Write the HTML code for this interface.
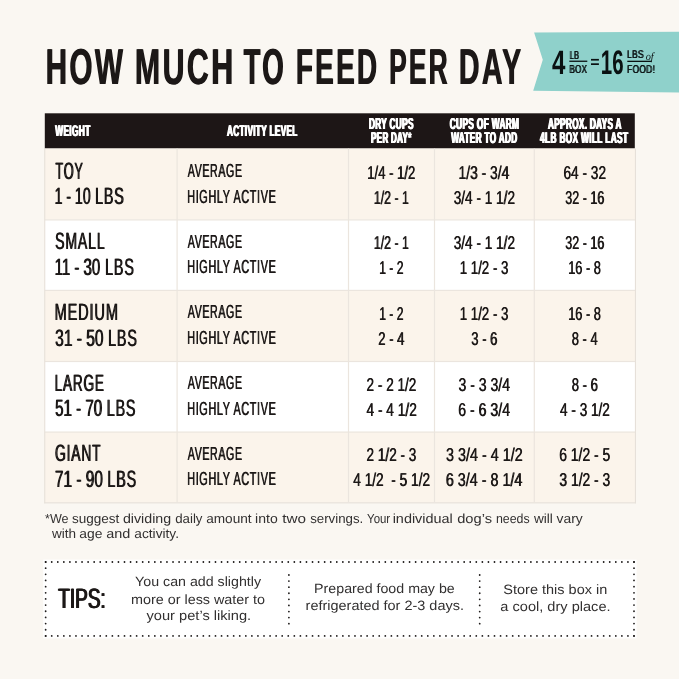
<!DOCTYPE html>
<html><head><meta charset="utf-8"><title>How much to feed per day</title>
<style>
html,body{margin:0;padding:0}
body{width:679px;height:679px;overflow:hidden;background:#faf7f2;font-family:"Liberation Sans",sans-serif;position:relative}
#wrap{position:absolute;left:0;top:0;width:679px;height:679px;will-change:transform;background:#faf7f2}
svg{position:absolute;left:0;top:0}
svg text{font-family:"Liberation Sans",sans-serif;font-weight:bold;text-rendering:geometricPrecision;white-space:pre}

</style></head><body><div id="wrap">
<svg width="679" height="679" viewBox="0 0 679 679">
<polygon points="534.1,32.4 679,31.7 679,92.6 533.2,90.7 542.8,59.8" fill="#8fd1cb"/>
<rect x="44.8" y="113.3" width="590.0" height="35.3" fill="#1d1616"/>
<rect x="44.8" y="148.4" width="590.4" height="71.3" fill="#fbf4eb"/>
<rect x="44.8" y="219.7" width="590.4" height="70.5" fill="#ffffff"/>
<rect x="44.8" y="290.2" width="590.4" height="71.1" fill="#fbf4eb"/>
<rect x="44.8" y="361.3" width="590.4" height="70.6" fill="#ffffff"/>
<rect x="44.8" y="431.9" width="590.4" height="70.8" fill="#fbf4eb"/>
<rect x="44.8" y="219.30" width="590.4" height="1.2" fill="#ebe5de"/>
<rect x="44.8" y="289.8" width="590.4" height="1.2" fill="#ebe5de"/>
<rect x="44.8" y="360.90" width="590.4" height="1.2" fill="#ebe5de"/>
<rect x="44.8" y="431.5" width="590.4" height="1.2" fill="#ebe5de"/>
<rect x="44.20" y="148.6" width="1.1" height="354.7" fill="#e6e0d9"/>
<rect x="634.90" y="148.6" width="1.1" height="354.7" fill="#e6e0d9"/>
<rect x="44.20" y="502.3" width="591.8" height="1.1" fill="#e6e0d9"/>
<rect x="176.5" y="148.6" width="1.2" height="354.1" fill="#ebe5de"/>
<rect x="347.90" y="148.6" width="1.2" height="354.1" fill="#ebe5de"/>
<rect x="433.90" y="148.6" width="1.2" height="354.1" fill="#ebe5de"/>
<rect x="533.70" y="148.6" width="1.2" height="354.1" fill="#ebe5de"/>
<rect x="43.2" y="559.6" width="593.4" height="78.8" fill="#ffffff"/>
<g stroke="#1f1c1b" stroke-width="1.8" stroke-linecap="round" fill="none">
<path d="M45.65 562.0H634.01M45.65 635.9H634.01" stroke-dasharray="0 6.0655"/>
<path d="M45.65 562.0V635.91M634.0 562.0V635.91" stroke-dasharray="0 6.1583"/>
<path d="M288.9 575V623.8M479.7 575V623.8" stroke-dasharray="0 6.0875"/>
</g>
<rect x="569.3" y="60.6" width="18" height="1.3" fill="#0a1112"/>
<rect x="627.3" y="60.7" width="24.2" height="1.3" fill="#0a1112"/>
<rect x="591" y="58.9" width="7.9" height="1.7" fill="#0a1112"/><rect x="591" y="63.3" width="7.9" height="1.7" fill="#0a1112"/>
<text transform="translate(45.17 84) scale(0.5901 1)" font-size="50.44" fill="#1c1817" style="letter-spacing:4.03px;">HOW</text>
<text transform="translate(45.97 84) scale(0.5901 1)" font-size="50.44" fill="#1c1817" style="letter-spacing:4.03px;">HOW</text>
<text transform="translate(134.53 84) scale(0.6011 1)" font-size="50.44" fill="#1c1817" style="letter-spacing:4.03px;">MUCH</text>
<text transform="translate(135.33 84) scale(0.6011 1)" font-size="50.44" fill="#1c1817" style="letter-spacing:4.03px;">MUCH</text>
<text transform="translate(243.32 84) scale(0.5456 1)" font-size="50.44" fill="#1c1817" style="letter-spacing:4.03px;">TO</text>
<text transform="translate(244.12 84) scale(0.5456 1)" font-size="50.44" fill="#1c1817" style="letter-spacing:4.03px;">TO</text>
<text transform="translate(295.48 84) scale(0.5542 1)" font-size="50.44" fill="#1c1817" style="letter-spacing:4.03px;">FEED</text>
<text transform="translate(296.28 84) scale(0.5542 1)" font-size="50.44" fill="#1c1817" style="letter-spacing:4.03px;">FEED</text>
<text transform="translate(388.79 84) scale(0.5222 1)" font-size="50.44" fill="#1c1817" style="letter-spacing:4.03px;">PER</text>
<text transform="translate(389.59 84) scale(0.5222 1)" font-size="50.44" fill="#1c1817" style="letter-spacing:4.03px;">PER</text>
<text transform="translate(458.54 84) scale(0.5667 1)" font-size="50.44" fill="#1c1817" style="letter-spacing:4.03px;">DAY</text>
<text transform="translate(459.34 84) scale(0.5667 1)" font-size="50.44" fill="#1c1817" style="letter-spacing:4.03px;">DAY</text>
<text transform="translate(54.70 136) scale(0.5359 1)" font-size="15.55" fill="#ffffff" style="letter-spacing:0.62px;">WEIGHT</text>
<text transform="translate(55.23 136) scale(0.5359 1)" font-size="15.55" fill="#ffffff" style="letter-spacing:0.62px;">WEIGHT</text>
<text transform="translate(55.75 136) scale(0.5359 1)" font-size="15.55" fill="#ffffff" style="letter-spacing:0.62px;">WEIGHT</text>
<text transform="translate(226.44 136) scale(0.5288 1)" font-size="15.55" fill="#ffffff" style="letter-spacing:0.62px;">ACTIVITY LEVEL</text>
<text transform="translate(226.96 136) scale(0.5288 1)" font-size="15.55" fill="#ffffff" style="letter-spacing:0.62px;">ACTIVITY LEVEL</text>
<text transform="translate(227.49 136) scale(0.5288 1)" font-size="15.55" fill="#ffffff" style="letter-spacing:0.62px;">ACTIVITY LEVEL</text>
<text transform="translate(368.46 129) scale(0.5214 1)" font-size="15.84" fill="#ffffff" style="letter-spacing:0.63px;">DRY CUPS</text>
<text transform="translate(368.99 129) scale(0.5214 1)" font-size="15.84" fill="#ffffff" style="letter-spacing:0.63px;">DRY CUPS</text>
<text transform="translate(369.51 129) scale(0.5214 1)" font-size="15.84" fill="#ffffff" style="letter-spacing:0.63px;">DRY CUPS</text>
<text transform="translate(370.58 143) scale(0.5094 1)" font-size="15.70" fill="#ffffff" style="letter-spacing:0.63px;">PER DAY*</text>
<text transform="translate(371.11 143) scale(0.5094 1)" font-size="15.70" fill="#ffffff" style="letter-spacing:0.63px;">PER DAY*</text>
<text transform="translate(371.63 143) scale(0.5094 1)" font-size="15.70" fill="#ffffff" style="letter-spacing:0.63px;">PER DAY*</text>
<text transform="translate(449.27 129) scale(0.5252 1)" font-size="15.84" fill="#ffffff" style="letter-spacing:0.63px;">CUPS OF WARM</text>
<text transform="translate(449.79 129) scale(0.5252 1)" font-size="15.84" fill="#ffffff" style="letter-spacing:0.63px;">CUPS OF WARM</text>
<text transform="translate(450.32 129) scale(0.5252 1)" font-size="15.84" fill="#ffffff" style="letter-spacing:0.63px;">CUPS OF WARM</text>
<text transform="translate(450.70 143) scale(0.5231 1)" font-size="15.70" fill="#ffffff" style="letter-spacing:0.63px;">WATER TO ADD</text>
<text transform="translate(451.22 143) scale(0.5231 1)" font-size="15.70" fill="#ffffff" style="letter-spacing:0.63px;">WATER TO ADD</text>
<text transform="translate(451.75 143) scale(0.5231 1)" font-size="15.70" fill="#ffffff" style="letter-spacing:0.63px;">WATER TO ADD</text>
<text transform="translate(547.54 129) scale(0.5184 1)" font-size="15.84" fill="#ffffff" style="letter-spacing:0.63px;">APPROX. DAYS A</text>
<text transform="translate(548.06 129) scale(0.5184 1)" font-size="15.84" fill="#ffffff" style="letter-spacing:0.63px;">APPROX. DAYS A</text>
<text transform="translate(548.59 129) scale(0.5184 1)" font-size="15.84" fill="#ffffff" style="letter-spacing:0.63px;">APPROX. DAYS A</text>
<text transform="translate(539.58 143) scale(0.5298 1)" font-size="15.70" fill="#ffffff" style="letter-spacing:0.63px;">4LB BOX WILL LAST</text>
<text transform="translate(540.10 143) scale(0.5298 1)" font-size="15.70" fill="#ffffff" style="letter-spacing:0.63px;">4LB BOX WILL LAST</text>
<text transform="translate(540.63 143) scale(0.5298 1)" font-size="15.70" fill="#ffffff" style="letter-spacing:0.63px;">4LB BOX WILL LAST</text>
<text transform="translate(55.04 179) scale(0.5387 1)" font-size="23.69" fill="#1c1817" style="font-weight:normal;letter-spacing:1.42px;">TOY</text>
<text transform="translate(55.84 179) scale(0.5387 1)" font-size="23.69" fill="#1c1817" style="font-weight:normal;letter-spacing:1.42px;">TOY</text>
<text transform="translate(54.25 204) scale(0.5936 1)" font-size="23.69" fill="#1c1817" style="font-weight:normal;">1 - 10</text>
<text transform="translate(55.05 204) scale(0.5936 1)" font-size="23.69" fill="#1c1817" style="font-weight:normal;">1 - 10</text>
<text transform="translate(94.66 204) scale(0.6036 1)" font-size="23.69" fill="#1c1817" style="font-weight:normal;letter-spacing:1.42px;">LBS</text>
<text transform="translate(95.46 204) scale(0.6036 1)" font-size="23.69" fill="#1c1817" style="font-weight:normal;letter-spacing:1.42px;">LBS</text>
<text transform="translate(187.50 177) scale(0.5611 1)" font-size="18.90" fill="#1c1817" style="font-weight:normal;letter-spacing:1.13px;">AVERAGE</text>
<text transform="translate(188.05 177) scale(0.5611 1)" font-size="18.90" fill="#1c1817" style="font-weight:normal;letter-spacing:1.13px;">AVERAGE</text>
<text transform="translate(186.93 203) scale(0.5734 1)" font-size="18.90" fill="#1c1817" style="font-weight:normal;letter-spacing:1.13px;">HIGHLY ACTIVE</text>
<text transform="translate(187.48 203) scale(0.5734 1)" font-size="18.90" fill="#1c1817" style="font-weight:normal;letter-spacing:1.13px;">HIGHLY ACTIVE</text>
<text transform="translate(367.02 179) scale(0.7037 1)" font-size="18.60" fill="#1c1817" style="font-weight:normal;">1/4 - 1/2</text>
<text transform="translate(367.57 179) scale(0.7037 1)" font-size="18.60" fill="#1c1817" style="font-weight:normal;">1/4 - 1/2</text>
<text transform="translate(373.58 204) scale(0.6625 1)" font-size="18.60" fill="#1c1817" style="font-weight:normal;">1/2 - 1</text>
<text transform="translate(374.13 204) scale(0.6625 1)" font-size="18.60" fill="#1c1817" style="font-weight:normal;">1/2 - 1</text>
<text transform="translate(458.31 179) scale(0.7435 1)" font-size="18.60" fill="#1c1817" style="font-weight:normal;">1/3 - 3/4</text>
<text transform="translate(458.86 179) scale(0.7435 1)" font-size="18.60" fill="#1c1817" style="font-weight:normal;">1/3 - 3/4</text>
<text transform="translate(453.47 204) scale(0.7312 1)" font-size="18.60" fill="#1c1817" style="font-weight:normal;">3/4 - 1 1/2</text>
<text transform="translate(454.02 204) scale(0.7312 1)" font-size="18.60" fill="#1c1817" style="font-weight:normal;">3/4 - 1 1/2</text>
<text transform="translate(563.22 179) scale(0.7349 1)" font-size="18.60" fill="#1c1817" style="font-weight:normal;">64 - 32</text>
<text transform="translate(563.77 179) scale(0.7349 1)" font-size="18.60" fill="#1c1817" style="font-weight:normal;">64 - 32</text>
<text transform="translate(565.06 204) scale(0.6734 1)" font-size="18.60" fill="#1c1817" style="font-weight:normal;">32 - 16</text>
<text transform="translate(565.61 204) scale(0.6734 1)" font-size="18.60" fill="#1c1817" style="font-weight:normal;">32 - 16</text>
<text transform="translate(54.67 249) scale(0.5945 1)" font-size="23.69" fill="#1c1817" style="font-weight:normal;letter-spacing:1.42px;">SMALL</text>
<text transform="translate(55.47 249) scale(0.5945 1)" font-size="23.69" fill="#1c1817" style="font-weight:normal;letter-spacing:1.42px;">SMALL</text>
<text transform="translate(54.17 275) scale(0.6343 1)" font-size="23.69" fill="#1c1817" style="font-weight:normal;">11 - 30</text>
<text transform="translate(54.97 275) scale(0.6343 1)" font-size="23.69" fill="#1c1817" style="font-weight:normal;">11 - 30</text>
<text transform="translate(104.76 275) scale(0.6036 1)" font-size="23.69" fill="#1c1817" style="font-weight:normal;letter-spacing:1.42px;">LBS</text>
<text transform="translate(105.56 275) scale(0.6036 1)" font-size="23.69" fill="#1c1817" style="font-weight:normal;letter-spacing:1.42px;">LBS</text>
<text transform="translate(187.50 248) scale(0.5611 1)" font-size="18.90" fill="#1c1817" style="font-weight:normal;letter-spacing:1.13px;">AVERAGE</text>
<text transform="translate(188.05 248) scale(0.5611 1)" font-size="18.90" fill="#1c1817" style="font-weight:normal;letter-spacing:1.13px;">AVERAGE</text>
<text transform="translate(186.93 273) scale(0.5734 1)" font-size="18.90" fill="#1c1817" style="font-weight:normal;letter-spacing:1.13px;">HIGHLY ACTIVE</text>
<text transform="translate(187.48 273) scale(0.5734 1)" font-size="18.90" fill="#1c1817" style="font-weight:normal;letter-spacing:1.13px;">HIGHLY ACTIVE</text>
<text transform="translate(373.58 249) scale(0.6625 1)" font-size="18.60" fill="#1c1817" style="font-weight:normal;">1/2 - 1</text>
<text transform="translate(374.13 249) scale(0.6625 1)" font-size="18.60" fill="#1c1817" style="font-weight:normal;">1/2 - 1</text>
<text transform="translate(378.89 274) scale(0.6534 1)" font-size="18.60" fill="#1c1817" style="font-weight:normal;">1 - 2</text>
<text transform="translate(379.44 274) scale(0.6534 1)" font-size="18.60" fill="#1c1817" style="font-weight:normal;">1 - 2</text>
<text transform="translate(453.47 249) scale(0.7312 1)" font-size="18.60" fill="#1c1817" style="font-weight:normal;">3/4 - 1 1/2</text>
<text transform="translate(454.02 249) scale(0.7312 1)" font-size="18.60" fill="#1c1817" style="font-weight:normal;">3/4 - 1 1/2</text>
<text transform="translate(459.40 274) scale(0.7148 1)" font-size="18.60" fill="#1c1817" style="font-weight:normal;">1 1/2 - 3</text>
<text transform="translate(459.95 274) scale(0.7148 1)" font-size="18.60" fill="#1c1817" style="font-weight:normal;">1 1/2 - 3</text>
<text transform="translate(565.06 249) scale(0.6734 1)" font-size="18.60" fill="#1c1817" style="font-weight:normal;">32 - 16</text>
<text transform="translate(565.61 249) scale(0.6734 1)" font-size="18.60" fill="#1c1817" style="font-weight:normal;">32 - 16</text>
<text transform="translate(567.89 274) scale(0.6903 1)" font-size="18.60" fill="#1c1817" style="font-weight:normal;">16 - 8</text>
<text transform="translate(568.44 274) scale(0.6903 1)" font-size="18.60" fill="#1c1817" style="font-weight:normal;">16 - 8</text>
<text transform="translate(54.14 320) scale(0.6144 1)" font-size="23.69" fill="#1c1817" style="font-weight:normal;letter-spacing:1.42px;">MEDIUM</text>
<text transform="translate(54.94 320) scale(0.6144 1)" font-size="23.69" fill="#1c1817" style="font-weight:normal;letter-spacing:1.42px;">MEDIUM</text>
<text transform="translate(54.76 346) scale(0.6563 1)" font-size="23.69" fill="#1c1817" style="font-weight:normal;">31 - 50</text>
<text transform="translate(55.56 346) scale(0.6563 1)" font-size="23.69" fill="#1c1817" style="font-weight:normal;">31 - 50</text>
<text transform="translate(107.76 346) scale(0.6036 1)" font-size="23.69" fill="#1c1817" style="font-weight:normal;letter-spacing:1.42px;">LBS</text>
<text transform="translate(108.56 346) scale(0.6036 1)" font-size="23.69" fill="#1c1817" style="font-weight:normal;letter-spacing:1.42px;">LBS</text>
<text transform="translate(187.50 318) scale(0.5611 1)" font-size="18.90" fill="#1c1817" style="font-weight:normal;letter-spacing:1.13px;">AVERAGE</text>
<text transform="translate(188.05 318) scale(0.5611 1)" font-size="18.90" fill="#1c1817" style="font-weight:normal;letter-spacing:1.13px;">AVERAGE</text>
<text transform="translate(186.93 344) scale(0.5734 1)" font-size="18.90" fill="#1c1817" style="font-weight:normal;letter-spacing:1.13px;">HIGHLY ACTIVE</text>
<text transform="translate(187.48 344) scale(0.5734 1)" font-size="18.90" fill="#1c1817" style="font-weight:normal;letter-spacing:1.13px;">HIGHLY ACTIVE</text>
<text transform="translate(378.89 320) scale(0.6534 1)" font-size="18.60" fill="#1c1817" style="font-weight:normal;">1 - 2</text>
<text transform="translate(379.44 320) scale(0.6534 1)" font-size="18.60" fill="#1c1817" style="font-weight:normal;">1 - 2</text>
<text transform="translate(378.00 345) scale(0.7023 1)" font-size="18.60" fill="#1c1817" style="font-weight:normal;">2 - 4</text>
<text transform="translate(378.55 345) scale(0.7023 1)" font-size="18.60" fill="#1c1817" style="font-weight:normal;">2 - 4</text>
<text transform="translate(459.40 320) scale(0.7148 1)" font-size="18.60" fill="#1c1817" style="font-weight:normal;">1 1/2 - 3</text>
<text transform="translate(459.95 320) scale(0.7148 1)" font-size="18.60" fill="#1c1817" style="font-weight:normal;">1 1/2 - 3</text>
<text transform="translate(470.99 345) scale(0.7023 1)" font-size="18.60" fill="#1c1817" style="font-weight:normal;">3 - 6</text>
<text transform="translate(471.54 345) scale(0.7023 1)" font-size="18.60" fill="#1c1817" style="font-weight:normal;">3 - 6</text>
<text transform="translate(567.89 320) scale(0.6903 1)" font-size="18.60" fill="#1c1817" style="font-weight:normal;">16 - 8</text>
<text transform="translate(568.44 320) scale(0.6903 1)" font-size="18.60" fill="#1c1817" style="font-weight:normal;">16 - 8</text>
<text transform="translate(571.43 345) scale(0.6987 1)" font-size="18.60" fill="#1c1817" style="font-weight:normal;">8 - 4</text>
<text transform="translate(571.98 345) scale(0.6987 1)" font-size="18.60" fill="#1c1817" style="font-weight:normal;">8 - 4</text>
<text transform="translate(54.21 391) scale(0.5739 1)" font-size="23.69" fill="#1c1817" style="font-weight:normal;letter-spacing:1.42px;">LARGE</text>
<text transform="translate(55.01 391) scale(0.5739 1)" font-size="23.69" fill="#1c1817" style="font-weight:normal;letter-spacing:1.42px;">LARGE</text>
<text transform="translate(54.70 416) scale(0.6379 1)" font-size="23.69" fill="#1c1817" style="font-weight:normal;">51 - 70</text>
<text transform="translate(55.50 416) scale(0.6379 1)" font-size="23.69" fill="#1c1817" style="font-weight:normal;">51 - 70</text>
<text transform="translate(106.36 416) scale(0.6036 1)" font-size="23.69" fill="#1c1817" style="font-weight:normal;letter-spacing:1.42px;">LBS</text>
<text transform="translate(107.16 416) scale(0.6036 1)" font-size="23.69" fill="#1c1817" style="font-weight:normal;letter-spacing:1.42px;">LBS</text>
<text transform="translate(187.50 389) scale(0.5611 1)" font-size="18.90" fill="#1c1817" style="font-weight:normal;letter-spacing:1.13px;">AVERAGE</text>
<text transform="translate(188.05 389) scale(0.5611 1)" font-size="18.90" fill="#1c1817" style="font-weight:normal;letter-spacing:1.13px;">AVERAGE</text>
<text transform="translate(186.93 415) scale(0.5734 1)" font-size="18.90" fill="#1c1817" style="font-weight:normal;letter-spacing:1.13px;">HIGHLY ACTIVE</text>
<text transform="translate(187.48 415) scale(0.5734 1)" font-size="18.90" fill="#1c1817" style="font-weight:normal;letter-spacing:1.13px;">HIGHLY ACTIVE</text>
<text transform="translate(366.27 391) scale(0.7304 1)" font-size="18.60" fill="#1c1817" style="font-weight:normal;">2 - 2 1/2</text>
<text transform="translate(366.82 391) scale(0.7304 1)" font-size="18.60" fill="#1c1817" style="font-weight:normal;">2 - 2 1/2</text>
<text transform="translate(366.23 416) scale(0.7377 1)" font-size="18.60" fill="#1c1817" style="font-weight:normal;">4 - 4 1/2</text>
<text transform="translate(366.78 416) scale(0.7377 1)" font-size="18.60" fill="#1c1817" style="font-weight:normal;">4 - 4 1/2</text>
<text transform="translate(458.16 391) scale(0.7561 1)" font-size="18.60" fill="#1c1817" style="font-weight:normal;">3 - 3 3/4</text>
<text transform="translate(458.71 391) scale(0.7561 1)" font-size="18.60" fill="#1c1817" style="font-weight:normal;">3 - 3 3/4</text>
<text transform="translate(457.94 416) scale(0.7592 1)" font-size="18.60" fill="#1c1817" style="font-weight:normal;">6 - 6 3/4</text>
<text transform="translate(458.49 416) scale(0.7592 1)" font-size="18.60" fill="#1c1817" style="font-weight:normal;">6 - 6 3/4</text>
<text transform="translate(571.43 391) scale(0.7041 1)" font-size="18.60" fill="#1c1817" style="font-weight:normal;">8 - 6</text>
<text transform="translate(571.98 391) scale(0.7041 1)" font-size="18.60" fill="#1c1817" style="font-weight:normal;">8 - 6</text>
<text transform="translate(559.78 416) scale(0.7303 1)" font-size="18.60" fill="#1c1817" style="font-weight:normal;">4 - 3 1/2</text>
<text transform="translate(560.33 416) scale(0.7303 1)" font-size="18.60" fill="#1c1817" style="font-weight:normal;">4 - 3 1/2</text>
<text transform="translate(54.61 461) scale(0.5838 1)" font-size="23.69" fill="#1c1817" style="font-weight:normal;letter-spacing:1.42px;">GIANT</text>
<text transform="translate(55.41 461) scale(0.5838 1)" font-size="23.69" fill="#1c1817" style="font-weight:normal;letter-spacing:1.42px;">GIANT</text>
<text transform="translate(54.53 487) scale(0.6498 1)" font-size="23.69" fill="#1c1817" style="font-weight:normal;">71 - 90</text>
<text transform="translate(55.33 487) scale(0.6498 1)" font-size="23.69" fill="#1c1817" style="font-weight:normal;">71 - 90</text>
<text transform="translate(107.06 487) scale(0.6036 1)" font-size="23.69" fill="#1c1817" style="font-weight:normal;letter-spacing:1.42px;">LBS</text>
<text transform="translate(107.86 487) scale(0.6036 1)" font-size="23.69" fill="#1c1817" style="font-weight:normal;letter-spacing:1.42px;">LBS</text>
<text transform="translate(187.50 460) scale(0.5611 1)" font-size="18.90" fill="#1c1817" style="font-weight:normal;letter-spacing:1.13px;">AVERAGE</text>
<text transform="translate(188.05 460) scale(0.5611 1)" font-size="18.90" fill="#1c1817" style="font-weight:normal;letter-spacing:1.13px;">AVERAGE</text>
<text transform="translate(186.93 485) scale(0.5734 1)" font-size="18.90" fill="#1c1817" style="font-weight:normal;letter-spacing:1.13px;">HIGHLY ACTIVE</text>
<text transform="translate(187.48 485) scale(0.5734 1)" font-size="18.90" fill="#1c1817" style="font-weight:normal;letter-spacing:1.13px;">HIGHLY ACTIVE</text>
<text transform="translate(366.27 461) scale(0.7294 1)" font-size="18.60" fill="#1c1817" style="font-weight:normal;">2 1/2 - 3</text>
<text transform="translate(366.82 461) scale(0.7294 1)" font-size="18.60" fill="#1c1817" style="font-weight:normal;">2 1/2 - 3</text>
<text transform="translate(352.98 486) scale(0.7357 1)" font-size="18.60" fill="#1c1817" style="font-weight:normal;">4 1/2&#160; - 5 1/2</text>
<text transform="translate(353.53 486) scale(0.7357 1)" font-size="18.60" fill="#1c1817" style="font-weight:normal;">4 1/2&#160; - 5 1/2</text>
<text transform="translate(445.80 461) scale(0.7716 1)" font-size="18.60" fill="#1c1817" style="font-weight:normal;">3 3/4 - 4 1/2</text>
<text transform="translate(446.35 461) scale(0.7716 1)" font-size="18.60" fill="#1c1817" style="font-weight:normal;">3 3/4 - 4 1/2</text>
<text transform="translate(445.58 486) scale(0.7709 1)" font-size="18.60" fill="#1c1817" style="font-weight:normal;">6 3/4 - 8 1/4</text>
<text transform="translate(446.13 486) scale(0.7709 1)" font-size="18.60" fill="#1c1817" style="font-weight:normal;">6 3/4 - 8 1/4</text>
<text transform="translate(558.90 461) scale(0.7489 1)" font-size="18.60" fill="#1c1817" style="font-weight:normal;">6 1/2 - 5</text>
<text transform="translate(559.45 461) scale(0.7489 1)" font-size="18.60" fill="#1c1817" style="font-weight:normal;">6 1/2 - 5</text>
<text transform="translate(559.11 486) scale(0.7458 1)" font-size="18.60" fill="#1c1817" style="font-weight:normal;">3 1/2 - 3</text>
<text transform="translate(559.66 486) scale(0.7458 1)" font-size="18.60" fill="#1c1817" style="font-weight:normal;">3 1/2 - 3</text>
<text transform="translate(57.62 608) scale(0.6764 1)" font-size="28.05" fill="#1c1817" style="font-weight:normal;">TIPS:</text>
<text transform="translate(58.27 608) scale(0.6764 1)" font-size="28.05" fill="#1c1817" style="font-weight:normal;">TIPS:</text>
<text transform="translate(58.92 608) scale(0.6764 1)" font-size="28.05" fill="#1c1817" style="font-weight:normal;">TIPS:</text>
<text transform="translate(552.04 74) scale(0.7139 1)" font-size="33.72" fill="#0a1112">4</text>
<text transform="translate(600.77 74) scale(0.5993 1)" font-size="34.16" fill="#0a1112">16</text>
<text transform="translate(569.32 59) scale(0.6352 1)" font-size="11.48" fill="#0a1112" style="font-weight:normal;letter-spacing:0.46px;">LB</text>
<text transform="translate(570.17 59) scale(0.6352 1)" font-size="11.48" fill="#0a1112" style="font-weight:normal;letter-spacing:0.46px;">LB</text>
<text transform="translate(569.06 73) scale(0.6835 1)" font-size="11.63" fill="#0a1112" style="font-weight:normal;letter-spacing:0.47px;">BOX</text>
<text transform="translate(569.91 73) scale(0.6835 1)" font-size="11.63" fill="#0a1112" style="font-weight:normal;letter-spacing:0.47px;">BOX</text>
<text transform="translate(626.74 58) scale(0.7421 1)" font-size="11.19" fill="#0a1112" style="font-weight:normal;letter-spacing:0.45px;">LBS</text>
<text transform="translate(627.59 58) scale(0.7421 1)" font-size="11.19" fill="#0a1112" style="font-weight:normal;letter-spacing:0.45px;">LBS</text>
<text transform="translate(626.73 73) scale(0.7358 1)" font-size="11.34" fill="#0a1112" style="font-weight:normal;letter-spacing:0.45px;">FOOD!</text>
<text transform="translate(627.58 73) scale(0.7358 1)" font-size="11.34" fill="#0a1112" style="font-weight:normal;letter-spacing:0.45px;">FOOD!</text>
<text transform="translate(645.64 60) scale(0.9365 1)" font-size="11.05" fill="#0a1112" style="font-weight:normal;font-style:italic;font-family:'Liberation Serif',serif;">of</text>
<text transform="translate(45.11 523) scale(0.9591 1)" font-size="13.1" fill="#323030" style="font-weight:normal">*We</text>
<text transform="translate(71.96 523) scale(1.0339 1)" font-size="13.1" fill="#323030" style="font-weight:normal">suggest</text>
<text transform="translate(122.93 523) scale(1.0861 1)" font-size="13.1" fill="#323030" style="font-weight:normal">dividing</text>
<text transform="translate(175.17 523) scale(1.0137 1)" font-size="13.1" fill="#323030" style="font-weight:normal">daily</text>
<text transform="translate(206.15 523) scale(1.0415 1)" font-size="13.1" fill="#323030" style="font-weight:normal">amount</text>
<text transform="translate(255.09 523) scale(1.0702 1)" font-size="13.1" fill="#323030" style="font-weight:normal">into</text>
<text transform="translate(282.27 523) scale(1.1654 1)" font-size="13.1" fill="#323030" style="font-weight:normal">two</text>
<text transform="translate(310.17 523) scale(1.0132 1)" font-size="13.1" fill="#323030" style="font-weight:normal">servings.</text>
<text transform="translate(367.07 523) scale(0.8735 1)" font-size="13.1" fill="#323030" style="font-weight:normal">Your</text>
<text transform="translate(392.66 523) scale(1.1020 1)" font-size="13.1" fill="#323030" style="font-weight:normal">individual</text>
<text transform="translate(457.21 523) scale(1.1204 1)" font-size="13.1" fill="#323030" style="font-weight:normal">dog’s</text>
<text transform="translate(495.89 523) scale(0.9458 1)" font-size="13.1" fill="#323030" style="font-weight:normal">needs</text>
<text transform="translate(533.97 523) scale(1.0398 1)" font-size="13.1" fill="#323030" style="font-weight:normal">will</text>
<text transform="translate(556.60 523) scale(1.0587 1)" font-size="13.1" fill="#323030" style="font-weight:normal">vary</text>
<text transform="translate(52.07 538) scale(1.0321 1)" font-size="13.1" fill="#323030" style="font-weight:normal">with</text>
<text transform="translate(79.25 538) scale(1.0590 1)" font-size="13.1" fill="#323030" style="font-weight:normal">age</text>
<text transform="translate(106.22 538) scale(1.1021 1)" font-size="13.1" fill="#323030" style="font-weight:normal">and</text>
<text transform="translate(134.35 538) scale(1.0456 1)" font-size="13.1" fill="#323030" style="font-weight:normal">activity.</text>
<text transform="translate(135.12 586) scale(1.0526 1)" font-size="13.5" fill="#323030" style="font-weight:normal">You can add slightly</text>
<text transform="translate(130.97 604) scale(1.0641 1)" font-size="13.5" fill="#323030" style="font-weight:normal">more or less water to</text>
<text transform="translate(146.50 620) scale(1.0843 1)" font-size="13.5" fill="#323030" style="font-weight:normal">your pet’s liking.</text>
<text transform="translate(314.11 593) scale(1.0527 1)" font-size="13.5" fill="#323030" style="font-weight:normal">Prepared food may be</text>
<text transform="translate(305.61 610) scale(1.0710 1)" font-size="13.5" fill="#323030" style="font-weight:normal">refrigerated for 2-3 days.</text>
<text transform="translate(503.35 594) scale(1.0737 1)" font-size="13.5" fill="#323030" style="font-weight:normal">Store this box in</text>
<text transform="translate(500.37 611) scale(1.0795 1)" font-size="13.5" fill="#323030" style="font-weight:normal">a cool, dry place.</text>
<!--EXTRA-->
</svg></div></body></html>
